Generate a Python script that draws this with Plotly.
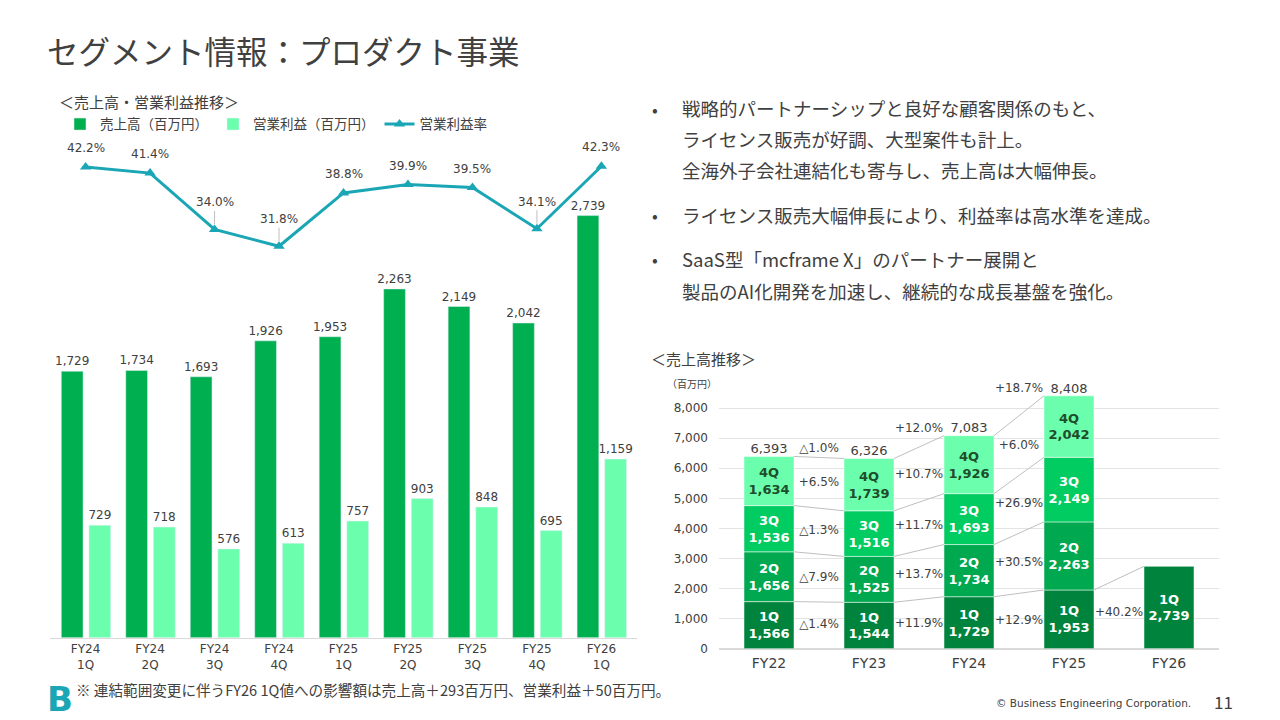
import numpy as np
import plotly.graph_objects as go

FONT = "Noto Sans CJK JP"
NUM = "DejaVu Sans"
TXT = "#404040"
S = 1.0125  # vertical correction for the page photo


def px(x):
    return x / 1280


def py(y):
    return 1 - y * S / 720


# left chart: quarterly sales / operating profit / margin
periods = ["FY24<br>1Q", "FY24<br>2Q", "FY24<br>3Q", "FY24<br>4Q", "FY25<br>1Q",
           "FY25<br>2Q", "FY25<br>3Q", "FY25<br>4Q", "FY26<br>1Q"]
sales = [1729, 1734, 1693, 1926, 1953, 2263, 2149, 2042, 2739]
op_profit = [729, 718, 576, 613, 757, 903, 848, 695, 1159]
op_margin = [42.2, 41.4, 34.0, 31.8, 38.8, 39.9, 39.5, 34.1, 42.3]
leader_idx = [2, 3, 7]  # margin labels drawn with a leader line

# right chart: yearly sales by quarter
years = ["FY22", "FY23", "FY24", "FY25", "FY26"]
q_names = ["1Q", "2Q", "3Q", "4Q"]
q1 = [1566, 1544, 1729, 1953, 2739]
q2 = [1656, 1525, 1734, 2263, None]
q3 = [1536, 1516, 1693, 2149, None]
q4 = [1634, 1739, 1926, 2042, None]
totals = [6393, 6326, 7083, 8408]
g_q1 = ["△1.4%", "+11.9%", "+12.9%", "+40.2%"]
g_q2 = ["△7.9%", "+13.7%", "+30.5%"]
g_q3 = ["△1.3%", "+11.7%", "+26.9%"]
g_q4 = ["+6.5%", "+10.7%", "+6.0%"]
g_total = ["△1.0%", "+12.0%", "+18.7%"]

fig = go.Figure()

# ---- left chart
bw = 22 / 65.2
fig.add_trace(go.Bar(
    x=periods, y=sales, name="売上高（百万円）", marker_color="#00B050",
    width=bw, offset=-0.377,
    text=[f"{v:,}" for v in sales], textposition="outside", cliponaxis=False,
    constraintext="none", textfont=dict(family=NUM, size=12, color=TXT),
    xaxis="x", yaxis="y"))
fig.add_trace(go.Bar(
    x=periods, y=op_profit, name="営業利益（百万円）", marker_color="#6BFFAD",
    width=bw, offset=0.052,
    text=[f"{v:,}" for v in op_profit], textposition="outside", cliponaxis=False,
    constraintext="none", textfont=dict(family=NUM, size=12, color=TXT),
    xaxis="x", yaxis="y"))
fig.add_trace(go.Scatter(
    x=periods, y=op_margin, name="営業利益率", mode="lines+markers",
    line=dict(color="#1BA6B5", width=3),
    marker=dict(symbol="triangle-up", size=10, color="#1BA6B5"),
    cliponaxis=False, xaxis="x", yaxis="y2"))

margin_ann = []
for i, (p, v) in enumerate(zip(periods, op_margin)):
    lead = i in leader_idx
    margin_ann.append(dict(
        xref="x", yref="y2", x=p, y=v, text=f"{v:.1f}%",
        showarrow=lead, arrowhead=0, arrowwidth=1, arrowcolor="#BFBFBF",
        ax=0, ay=-27, standoff=5,
        yshift=0 if lead else 19,
        font=dict(family=NUM, size=12, color=TXT)))

# ---- right chart
qs = [q1, q2, q3, q4]
q_colors = ["#00843D", "#00A84F", "#00CC62", "#6BFFAD"]
q_text_colors = ["white", "white", "white", "#1E4D2B"]
xs = np.arange(len(years))
base = np.zeros(len(years))
cums = []
mids = []
for name, vals, col, tcol in zip(q_names, qs, q_colors, q_text_colors):
    v = np.array([np.nan if a is None else a for a in vals], dtype=float)
    fig.add_trace(go.Bar(
        x=xs, y=v, base=base.copy(), width=0.5, offset=-0.25, offsetgroup="r",
        marker=dict(color=col, line=dict(width=0.5, color="white")),
        text=["" if np.isnan(a) else f"{name}<br>{int(a):,}" for a in v],
        textposition="inside", insidetextanchor="middle", textangle=0,
        constraintext="none",
        textfont=dict(family=NUM, size=13, color=tcol, weight="bold"),
        showlegend=False, hoverinfo="skip", xaxis="x2", yaxis="y3"))
    mids.append(base + v / 2)
    base = base + np.nan_to_num(v)
    cums.append(base.copy())

# connector lines between bars
lx, ly = [], []
for k, c in enumerate(cums):
    n = 4 if k == 0 else 3
    for i in range(n):
        lx += [i + 0.25, i + 0.75, None]
        ly += [c[i], c[i + 1], None]
fig.add_trace(go.Scatter(x=lx, y=ly, mode="lines", line=dict(color="#BFBFBF", width=1),
                         showlegend=False, hoverinfo="skip", xaxis="x2", yaxis="y3"))

# growth labels
gx, gy, gt = [], [], []
for k, labels in enumerate([g_q1, g_q2, g_q3, g_q4]):
    for i, lab in enumerate(labels):
        gx.append(i + 0.5)
        gy.append((mids[k][i] + mids[k][i + 1]) / 2)
        gt.append(lab)
for i, lab in enumerate(g_total):
    gx.append(i + 0.5)
    gy.append(max(totals[i], totals[i + 1]) + 230)
    gt.append(lab)
fig.add_trace(go.Scatter(x=gx, y=gy, mode="text", text=gt,
                         textfont=dict(family=NUM, size=12, color=TXT), cliponaxis=False,
                         showlegend=False, hoverinfo="skip", xaxis="x2", yaxis="y3"))

# totals
fig.add_trace(go.Scatter(x=xs[:4], y=totals, mode="text", text=[f"{v:,}" for v in totals],
                         textposition="top center", textfont=dict(family=NUM, size=13, color=TXT),
                         cliponaxis=False, showlegend=False, hoverinfo="skip",
                         xaxis="x2", yaxis="y3"))

fig.update_layout(
    width=1280, height=720,
    margin=dict(l=0, r=0, t=0, b=0),
    paper_bgcolor="white", plot_bgcolor="white",
    font=dict(family=FONT, color=TXT, size=12),
    barmode="group",
    legend=dict(orientation="h", x=px(60), y=py(124), yanchor="middle", xanchor="left",
                font=dict(size=13.5, color=TXT), itemwidth=30, traceorder="normal"),
    xaxis=dict(domain=[px(50), px(637)], anchor="y", showline=True,
               linecolor="#D9D9D9", linewidth=1, ticks="",
               tickfont=dict(family=NUM, size=12, color=TXT), showgrid=False),
    yaxis=dict(domain=[py(636), py(140)], range=[0, 3227], visible=False,
               showgrid=False),
    yaxis2=dict(overlaying="y", range=[-19.6, 45.7], visible=False, showgrid=False),
    xaxis2=dict(domain=[px(719), px(1219)], anchor="y3", range=[-0.5, 4.5],
                tickvals=list(xs), ticktext=years, ticks="", showgrid=False,
                tickfont=dict(family=NUM, size=14, color=TXT), zeroline=False,
                ticklabelstandoff=4),
    yaxis3=dict(domain=[py(647), py(380)], anchor="x2", range=[0, 8900],
                tickvals=list(range(0, 9000, 1000)), tickformat=",", showgrid=True,
                gridcolor="#E3E3E3", zeroline=True, zerolinecolor="#D9D9D9",
                tickfont=dict(family=NUM, size=12, color=TXT), ticks="", showline=False,
                ticklabelstandoff=10),
)

ann = [
    dict(x=45, y=50, text="セグメント情報：プロダクト事業", size=31.5),
    dict(x=57, y=101, text="＜売上高・営業利益推移＞", size=15),
    dict(x=649, y=358, text="＜売上高推移＞", size=15),
    dict(x=665, y=382, text="（百万円）", size=10),
    dict(x=74, y=688, text="※ 連結範囲変更に伴うFY26 1Q値への影響額は売上高＋293百万円、営業利益＋50百万円。", size=14.6),
    dict(x=1212, y=700, text="11", size=17),
]
bullets = [(108, "•"), (214, "•"), (258, "•")]
lines = [
    (108, "戦略的パートナーシップと良好な顧客関係のもと、"),
    (139, "ライセンス販売が好調、大型案件も計上。"),
    (170, "全海外子会社連結化も寄与し、売上高は大幅伸長。"),
    (214, "ライセンス販売大幅伸長により、利益率は高水準を達成。"),
    (258, "SaaS型「mcframe X」のパートナー展開と"),
    (290, "製品のAI化開発を加速し、継続的な成長基盤を強化。"),
]
for y, t in bullets:
    ann.append(dict(x=650, y=y, text=t, size=17))
for y, t in lines:
    ann.append(dict(x=680, y=y, text=t, size=18.5))

fig.update_layout(annotations=margin_ann + [
    dict(xref="paper", yref="paper", x=px(a["x"]), y=py(a["y"]),
         xanchor="left", yanchor="middle", showarrow=False, text=a["text"],
         font=dict(family=FONT, size=a["size"], color=TXT))
    for a in ann
] + [
    dict(xref="paper", yref="paper", x=px(1193), y=py(701), xanchor="right",
         yanchor="middle", showarrow=False, text="© Business Engineering Corporation.",
         font=dict(family=NUM, size=10.5, color=TXT)),
    dict(xref="paper", yref="paper", x=px(45), y=py(697), xanchor="left",
         yanchor="middle", showarrow=False, text="<b>B</b>",
         font=dict(family=NUM, size=34, color="#1BA6B5")),
])

fig.write_html("out.html", config={"displayModeBar": False},
               post_script="document.body.style.margin='0px';")
